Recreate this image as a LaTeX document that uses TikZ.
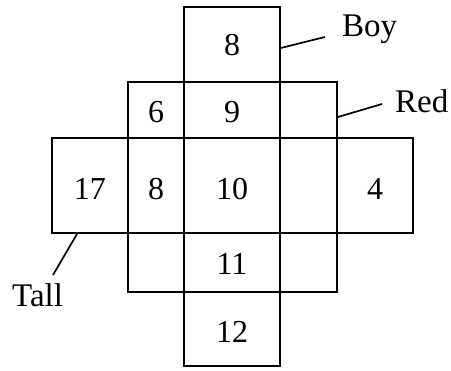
\documentclass[tikz,border=0pt]{standalone}
\usepackage{fontspec}
\setmainfont{Liberation Serif}
\begin{document}
\begin{tikzpicture}[x=1pt,y=-1pt,
  grid/.style={line width=1.7pt,line join=miter},
  num/.style={font=\fontsize{32}{36}\selectfont,inner sep=0pt},
  lbl/.style={font=\fontsize{33}{38}\selectfont,inner sep=0pt,anchor=base west},
  leader/.style={line width=1.7pt}]
\useasboundingbox (0,0) rectangle (451,371);
% boxes
\draw[grid] (184,7) rectangle (280,366);
\draw[grid] (128,82) rectangle (337,292);
\draw[grid] (52,138) rectangle (413,233);
\draw[grid] (128,138) -- (128,233);
\draw[grid] (337,138) -- (337,233);
\draw[grid] (184,82) -- (280,82);
\draw[grid] (184,292) -- (280,292);
\draw[grid] (128,138) -- (337,138);
\draw[grid] (128,233) -- (337,233);
% numbers
\node[num] (n8a) at (232,45) {8};
\node[num] (n6) at (156,112) {6};
\node[num] (n9) at (232,112) {9};
\node[num] (n17) at (90,189) {17};
\node[num] (n8b) at (156,189) {8};
\node[num] (n10) at (232,189) {10};
\node[num] (n4) at (375,189) {4};
\node[num] (n11) at (232,264) {11};
\node[num] (n12) at (232,332) {12};
% labels
\node[lbl] (boy) at (342,37) {Boy};
\node[lbl] (red) at (395,113) {Red};
\node[lbl] (tall) at (12,307) {Tall};
\coordinate (boyA) at (281,48);
\coordinate (boyB) at (325,37);
\coordinate (redA) at (338,117);
\coordinate (redB) at (382,104);
\coordinate (tallA) at (77,234);
\coordinate (tallB) at (53,275);
\draw[leader] (boyA) -- (boyB);
\draw[leader] (redA) -- (redB);
\draw[leader] (tallA) -- (tallB);
\end{tikzpicture}
\end{document}
